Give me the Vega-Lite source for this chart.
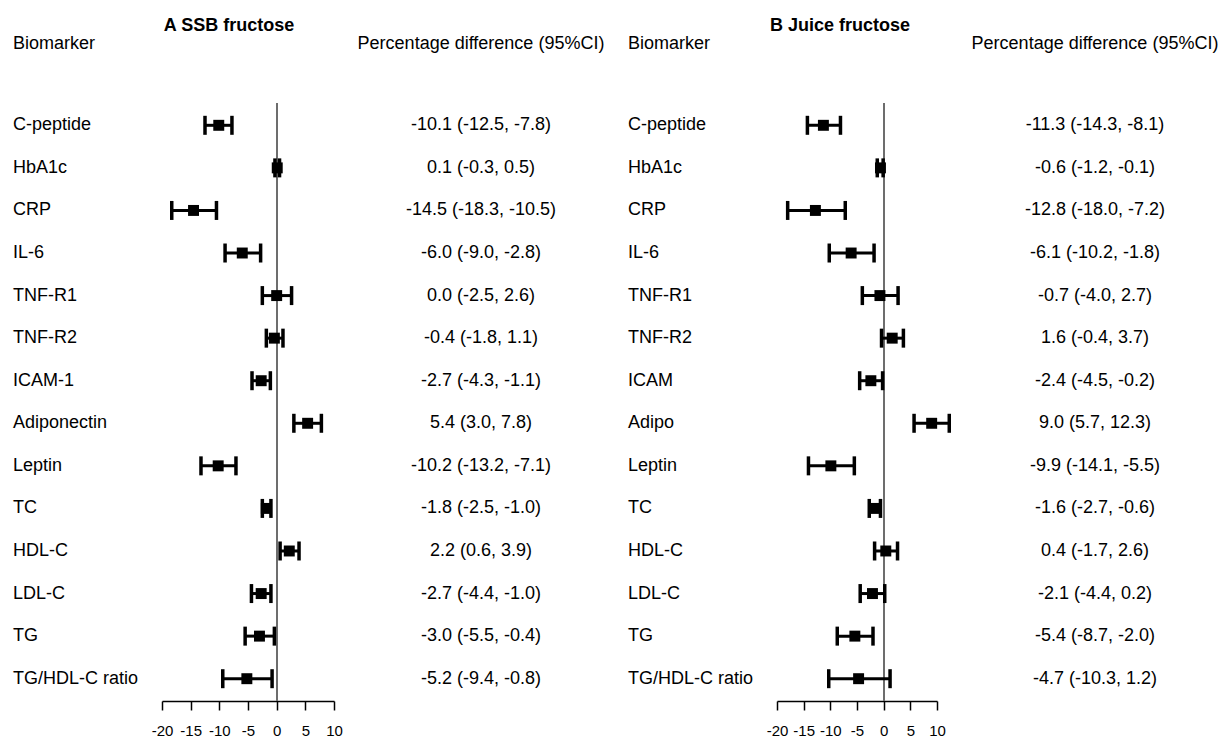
{
  "$schema": "https://vega.github.io/schema/vega-lite/v6.json",
  "background": "white",
  "padding": {"left": 13, "top": 16, "right": 0, "bottom": 0},
  "autosize": {"type": "pad"},
  "spacing": 0,
  "bounds": "flush",
  "config": {
    "view": {"stroke": null},
    "font": "Liberation Sans",
    "title": {"font": "Liberation Sans", "color": "black"},
    "text": {"font": "Liberation Sans", "fontSize": 18, "color": "black"},
    "axisX": {"labelExpr": "'' + datum.value", "title": null, "grid": false, "domainColor": "black", "domainWidth": 1.5, "tickColor": "black", "tickWidth": 1.5, "tickSize": 9, "labelFontSize": 15, "labelColor": "black", "labelPadding": 13, "labelFlush": false, "labelOverlap": false, "labelFont": "Liberation Sans"}
  },
  "datasets": {
    "A": [
      {"biomarker": "C-peptide", "est": -10.1, "lo": -12.5, "hi": -7.8, "ci": "-10.1 (-12.5, -7.8)"},
      {"biomarker": "HbA1c", "est": 0.1, "lo": -0.3, "hi": 0.5, "ci": "0.1 (-0.3, 0.5)"},
      {"biomarker": "CRP", "est": -14.5, "lo": -18.3, "hi": -10.5, "ci": "-14.5 (-18.3, -10.5)"},
      {"biomarker": "IL-6", "est": -6.0, "lo": -9.0, "hi": -2.8, "ci": "-6.0 (-9.0, -2.8)"},
      {"biomarker": "TNF-R1", "est": 0.0, "lo": -2.5, "hi": 2.6, "ci": "0.0 (-2.5, 2.6)"},
      {"biomarker": "TNF-R2", "est": -0.4, "lo": -1.8, "hi": 1.1, "ci": "-0.4 (-1.8, 1.1)"},
      {"biomarker": "ICAM-1", "est": -2.7, "lo": -4.3, "hi": -1.1, "ci": "-2.7 (-4.3, -1.1)"},
      {"biomarker": "Adiponectin", "est": 5.4, "lo": 3.0, "hi": 7.8, "ci": "5.4 (3.0, 7.8)"},
      {"biomarker": "Leptin", "est": -10.2, "lo": -13.2, "hi": -7.1, "ci": "-10.2 (-13.2, -7.1)"},
      {"biomarker": "TC", "est": -1.8, "lo": -2.5, "hi": -1.0, "ci": "-1.8 (-2.5, -1.0)"},
      {"biomarker": "HDL-C", "est": 2.2, "lo": 0.6, "hi": 3.9, "ci": "2.2 (0.6, 3.9)"},
      {"biomarker": "LDL-C", "est": -2.7, "lo": -4.4, "hi": -1.0, "ci": "-2.7 (-4.4, -1.0)"},
      {"biomarker": "TG", "est": -3.0, "lo": -5.5, "hi": -0.4, "ci": "-3.0 (-5.5, -0.4)"},
      {"biomarker": "TG/HDL-C ratio", "est": -5.2, "lo": -9.4, "hi": -0.8, "ci": "-5.2 (-9.4, -0.8)"}
    ],
    "B": [
      {"biomarker": "C-peptide", "est": -11.3, "lo": -14.3, "hi": -8.1, "ci": "-11.3 (-14.3, -8.1)"},
      {"biomarker": "HbA1c", "est": -0.6, "lo": -1.2, "hi": -0.1, "ci": "-0.6 (-1.2, -0.1)"},
      {"biomarker": "CRP", "est": -12.8, "lo": -18.0, "hi": -7.2, "ci": "-12.8 (-18.0, -7.2)"},
      {"biomarker": "IL-6", "est": -6.1, "lo": -10.2, "hi": -1.8, "ci": "-6.1 (-10.2, -1.8)"},
      {"biomarker": "TNF-R1", "est": -0.7, "lo": -4.0, "hi": 2.7, "ci": "-0.7 (-4.0, 2.7)"},
      {"biomarker": "TNF-R2", "est": 1.6, "lo": -0.4, "hi": 3.7, "ci": "1.6 (-0.4, 3.7)"},
      {"biomarker": "ICAM", "est": -2.4, "lo": -4.5, "hi": -0.2, "ci": "-2.4 (-4.5, -0.2)"},
      {"biomarker": "Adipo", "est": 9.0, "lo": 5.7, "hi": 12.3, "ci": "9.0 (5.7, 12.3)"},
      {"biomarker": "Leptin", "est": -9.9, "lo": -14.1, "hi": -5.5, "ci": "-9.9 (-14.1, -5.5)"},
      {"biomarker": "TC", "est": -1.6, "lo": -2.7, "hi": -0.6, "ci": "-1.6 (-2.7, -0.6)"},
      {"biomarker": "HDL-C", "est": 0.4, "lo": -1.7, "hi": 2.6, "ci": "0.4 (-1.7, 2.6)"},
      {"biomarker": "LDL-C", "est": -2.1, "lo": -4.4, "hi": 0.2, "ci": "-2.1 (-4.4, 0.2)"},
      {"biomarker": "TG", "est": -5.4, "lo": -8.7, "hi": -2.0, "ci": "-5.4 (-8.7, -2.0)"},
      {"biomarker": "TG/HDL-C ratio", "est": -4.7, "lo": -10.3, "hi": 1.2, "ci": "-4.7 (-10.3, 1.2)"}
    ]
  },
  "hconcat": [
    {
      "width": 149, "height": 598,
      "data": {"name": "A"},
      "title": {"text": "Biomarker", "anchor": "start", "baseline": "middle", "offset": 40.7, "fontSize": 18, "fontWeight": "normal"},
      "mark": {"type": "text", "align": "left", "baseline": "middle"},
      "encoding": {
        "x": {"datum": 0, "type": "quantitative", "scale": {"domain": [0, 1]}, "axis": null},
        "y": {"field": "biomarker", "type": "nominal", "sort": null, "scale": {"type": "point", "padding": 0.524}, "axis": null},
        "text": {"field": "biomarker"}
      }
    },
    {
      "width": 172, "height": 598,
      "data": {"name": "A"},
      "title": {"text": "A SSB fructose", "baseline": "middle", "offset": 58.7, "fontSize": 18, "fontWeight": "bold", "dx": -19},
      "layer": [
        {
          "mark": {"type": "rule", "color": "#6e6e6e", "strokeWidth": 1.2},
          "encoding": {"x": {"datum": 0, "type": "quantitative", "scale": {"domain": [-20, 10], "nice": false, "zero": false}, "axis": {"values": [-20, -15, -10, -5, 0, 5, 10], "tickCount": 7}}}
        },
        {
          "mark": {"type": "rule", "color": "black", "strokeWidth": 3},
          "encoding": {
            "x": {"field": "lo", "type": "quantitative"},
            "x2": {"field": "hi"},
            "y": {"field": "biomarker", "type": "nominal", "sort": null, "scale": {"type": "point", "padding": 0.524}, "axis": null}
          }
        },
        {
          "mark": {"type": "tick", "color": "black", "opacity": 1, "size": 19, "thickness": 3.5, "orient": "vertical"},
          "encoding": {
            "x": {"field": "lo", "type": "quantitative"},
            "y": {"field": "biomarker", "type": "nominal", "sort": null}
          }
        },
        {
          "mark": {"type": "tick", "color": "black", "opacity": 1, "size": 19, "thickness": 3.5, "orient": "vertical"},
          "encoding": {
            "x": {"field": "hi", "type": "quantitative"},
            "y": {"field": "biomarker", "type": "nominal", "sort": null}
          }
        },
        {
          "mark": {"type": "square", "color": "black", "filled": true, "opacity": 1, "size": 120},
          "encoding": {
            "x": {"field": "est", "type": "quantitative"},
            "y": {"field": "biomarker", "type": "nominal", "sort": null}
          }
        }
      ]
    },
    {
      "width": 294, "height": 598,
      "data": {"name": "A"},
      "title": {"text": "Percentage difference (95%CI)", "baseline": "middle", "offset": 40.7, "fontSize": 18, "fontWeight": "normal"},
      "mark": {"type": "text", "align": "center", "baseline": "middle"},
      "encoding": {
        "y": {"field": "biomarker", "type": "nominal", "sort": null, "scale": {"type": "point", "padding": 0.524}, "axis": null},
        "text": {"field": "ci"}
      }
    },
    {
      "width": 149, "height": 598,
      "data": {"name": "B"},
      "title": {"text": "Biomarker", "anchor": "start", "baseline": "middle", "offset": 40.7, "fontSize": 18, "fontWeight": "normal"},
      "mark": {"type": "text", "align": "left", "baseline": "middle"},
      "encoding": {
        "x": {"datum": 0, "type": "quantitative", "scale": {"domain": [0, 1]}, "axis": null},
        "y": {"field": "biomarker", "type": "nominal", "sort": null, "scale": {"type": "point", "padding": 0.524}, "axis": null},
        "text": {"field": "biomarker"}
      }
    },
    {
      "width": 160, "height": 598,
      "data": {"name": "B"},
      "title": {"text": "B Juice fructose", "baseline": "middle", "offset": 58.7, "fontSize": 18, "fontWeight": "bold", "dx": -17},
      "layer": [
        {
          "mark": {"type": "rule", "color": "#6e6e6e", "strokeWidth": 1.2},
          "encoding": {"x": {"datum": 0, "type": "quantitative", "scale": {"domain": [-20, 10], "nice": false, "zero": false}, "axis": {"values": [-20, -15, -10, -5, 0, 5, 10], "tickCount": 7}}}
        },
        {
          "mark": {"type": "rule", "color": "black", "strokeWidth": 3},
          "encoding": {
            "x": {"field": "lo", "type": "quantitative"},
            "x2": {"field": "hi"},
            "y": {"field": "biomarker", "type": "nominal", "sort": null, "scale": {"type": "point", "padding": 0.524}, "axis": null}
          }
        },
        {
          "mark": {"type": "tick", "color": "black", "opacity": 1, "size": 19, "thickness": 3.5, "orient": "vertical"},
          "encoding": {
            "x": {"field": "lo", "type": "quantitative"},
            "y": {"field": "biomarker", "type": "nominal", "sort": null}
          }
        },
        {
          "mark": {"type": "tick", "color": "black", "opacity": 1, "size": 19, "thickness": 3.5, "orient": "vertical"},
          "encoding": {
            "x": {"field": "hi", "type": "quantitative"},
            "y": {"field": "biomarker", "type": "nominal", "sort": null}
          }
        },
        {
          "mark": {"type": "square", "color": "black", "filled": true, "opacity": 1, "size": 120},
          "encoding": {
            "x": {"field": "est", "type": "quantitative"},
            "y": {"field": "biomarker", "type": "nominal", "sort": null}
          }
        }
      ]
    },
    {
      "width": 286, "height": 598,
      "data": {"name": "B"},
      "title": {"text": "Percentage difference (95%CI)", "baseline": "middle", "offset": 40.7, "fontSize": 18, "fontWeight": "normal", "dx": 15},
      "mark": {"type": "text", "align": "center", "baseline": "middle", "dx": 15},
      "encoding": {
        "y": {"field": "biomarker", "type": "nominal", "sort": null, "scale": {"type": "point", "padding": 0.524}, "axis": null},
        "text": {"field": "ci"}
      }
    }
  ]
}
